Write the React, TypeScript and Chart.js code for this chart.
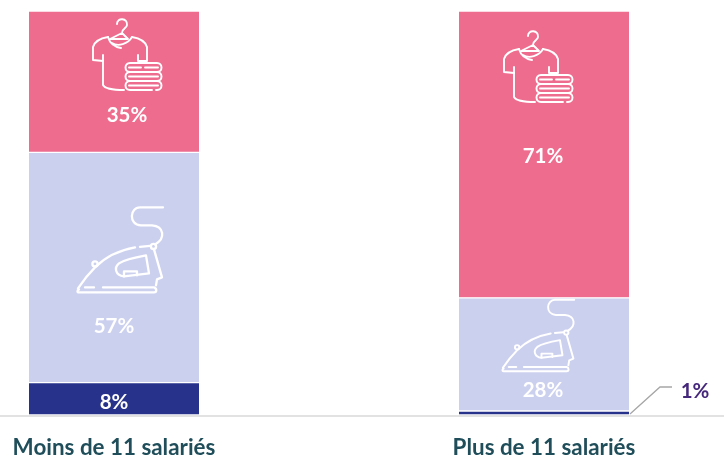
import React, { useEffect, useRef } from "react";
import { Chart, registerables } from "chart.js";

Chart.register(...registerables);

const categories = ["Moins de 11 salariés", "Plus de 11 salariés"];
const navyValues = [8, 1];
const lavenderValues = [57, 28];
const pinkValues = [35, 71];

const FONT = "Lato, 'Open Sans', sans-serif";
const PINK = "#EE6D8F";
const LAVENDER = "#CCD0EF";
const NAVY = "#27338B";

function drawIron(ctx: CanvasRenderingContext2D, x: number, y: number, s: number) {
  ctx.save();
  ctx.translate(x, y);
  ctx.scale(s, s);
  ctx.translate(-77, -207);
  ctx.strokeStyle = "#fff";
  ctx.lineWidth = 2.3;
  ctx.lineCap = "round";
  ctx.lineJoin = "round";
  const p = (d: string) => ctx.stroke(new Path2D(d));
  p("M163 207 H140 C130 207 128 224 141 225 H152 C164 226 166 238 155 244");
  p("M135 247 C118 250 105 257 95 267 C88 274 82 282 78 288");
  p("M140 246.5 L150 245.5");
  p("M154 249 L162 277 L157 279 L156 285");
  p("M79 289 C77 290 77 292 79 292 H154 C157 292 157 288 154 287 H103");
  p("M94 287 H85");
  p("M146 255 L149 273 L124 276 C115 275 114 267 119 263 C125 259 135 257 146 255 Z");
  p("M124 276 V271 H137 V275");
  ctx.beginPath();
  ctx.arc(153.5, 246, 2.6, 0, Math.PI * 2);
  ctx.stroke();
  ctx.beginPath();
  ctx.arc(95, 263.5, 2.6, 0, Math.PI * 2);
  ctx.stroke();
  ctx.restore();
}

function drawShirt(ctx: CanvasRenderingContext2D, x: number, y: number) {
  ctx.save();
  ctx.translate(x, y);
  ctx.translate(-92, -19);
  ctx.strokeStyle = "#fff";
  ctx.lineWidth = 1.9;
  ctx.lineCap = "round";
  ctx.lineJoin = "round";
  const p = (d: string) => ctx.stroke(new Path2D(d));
  p("M117 24 C117 17 128 18 127 25 C127 28 122 28 122 33 L110 39 H128 L122 33");
  p("M108 37 C102 38 95 40 93 47 V60 L103 61 V85 C105 89 112 90 124 90");
  p("M132 37 C138 38 145 40 147 47 V61 H138 V55");
  p("M103 61 V55");
  p("M108 37 C110 44 115 47 121 48 M112 43 C118 47 128 44 132 37");
  p("M130 63 H157 C163 63 163 72 157 72 H130 C124 72 124 63 130 63 Z");
  p("M130 72 C124 72 124 81 130 81 H157 C163 81 163 72 157 72");
  p("M130 81 C124 81 124 90 130 90 H152 M156 90 H157 C163 90 163 81 157 81");
  p("M129 67.5 H141 M145 67.5 H158");
  p("M129 76.5 H158");
  p("M129 85.5 H158");
  ctx.restore();
}

export default function App() {
  const ref = useRef<HTMLCanvasElement>(null);

  useEffect(() => {
    const overlay = {
      id: "overlay",
      afterDatasetsDraw(chart: any) {
        const { ctx } = chart;
        const yScale = chart.scales.y;
        const xScale = chart.scales.x;
        const base = yScale.getPixelForValue(0);
        ctx.save();
        // baseline over the full width
        ctx.strokeStyle = "#D9D9D9";
        ctx.lineWidth = 1.6;
        ctx.beginPath();
        ctx.moveTo(0, base + 1);
        ctx.lineTo(chart.width, base + 1);
        ctx.stroke();

        const leftX = xScale.getPixelForValue(0);
        const rightX = xScale.getPixelForValue(1);

        drawShirt(ctx, leftX - 22, yScale.getPixelForValue(100) + 8);
        drawShirt(ctx, rightX - 41, yScale.getPixelForValue(100) + 20);
        drawIron(ctx, leftX - 37, yScale.getPixelForValue(65) + 55, 1);
        drawIron(ctx, rightX - 42, yScale.getPixelForValue(29) + 2, 0.84);

        // value labels
        ctx.font = `bold 20.5px ${FONT}`;
        ctx.textAlign = "center";
        ctx.textBaseline = "middle";
        ctx.fillStyle = "#fff";
        const label = (v: number, px: number, py: number) => ctx.fillText(`${v}%`, px, py);
        label(pinkValues[0], leftX + 13, 115);
        label(lavenderValues[0], leftX, 326);
        label(navyValues[0], leftX, 402);
        label(pinkValues[1], rightX - 1, 156);
        label(lavenderValues[1], rightX - 1, 390);
        ctx.fillStyle = "#45277B";
        label(navyValues[1], 695, 391);

        // leader line for the small segment
        ctx.strokeStyle = "#A6A6A6";
        ctx.lineWidth = 1.3;
        ctx.beginPath();
        ctx.moveTo(630, base - 1);
        ctx.lineTo(660, 387);
        ctx.lineTo(672, 387);
        ctx.stroke();
        ctx.restore();
      },
    };

    const border = { top: 1, bottom: 1, left: 0, right: 0 };
    const chart = new Chart(ref.current!, {
      type: "bar",
      data: {
        labels: categories,
        datasets: [
          { data: navyValues, backgroundColor: NAVY },
          { data: lavenderValues, backgroundColor: LAVENDER },
          { data: pinkValues, backgroundColor: PINK },
        ].map((d) => ({
          ...d,
          barThickness: 170,
          borderWidth: border,
          borderColor: "#fff",
          borderSkipped: false,
          clip: false,
        })) as any,
      },
      options: {
        animation: false,
        responsive: false,
        layout: { padding: { left: 114, right: 180, top: 11, bottom: 0 } },
        plugins: { legend: { display: false }, tooltip: { enabled: false } },
        scales: {
          x: {
            stacked: true,
            offset: false,
            grid: { display: false },
            border: { display: false },
            afterFit: (s: any) => {
              s.height = 42;
            },
            ticks: {
              padding: 11,
              maxRotation: 0,
              autoSkip: false,
              color: "#1F4E5A",
              font: { family: FONT, size: 22.4, weight: "bold" },
            },
          },
          y: { stacked: true, display: false, min: 0, max: 100 },
        },
      },
      plugins: [overlay],
    } as any);
    return () => chart.destroy();
  }, []);

  return (
    <div style={{ position: "fixed", left: 0, top: 0, width: 724, height: 457, background: "#fff" }}>
      <canvas ref={ref} width={724} height={457} style={{ display: "block" }} />
    </div>
  );
}
